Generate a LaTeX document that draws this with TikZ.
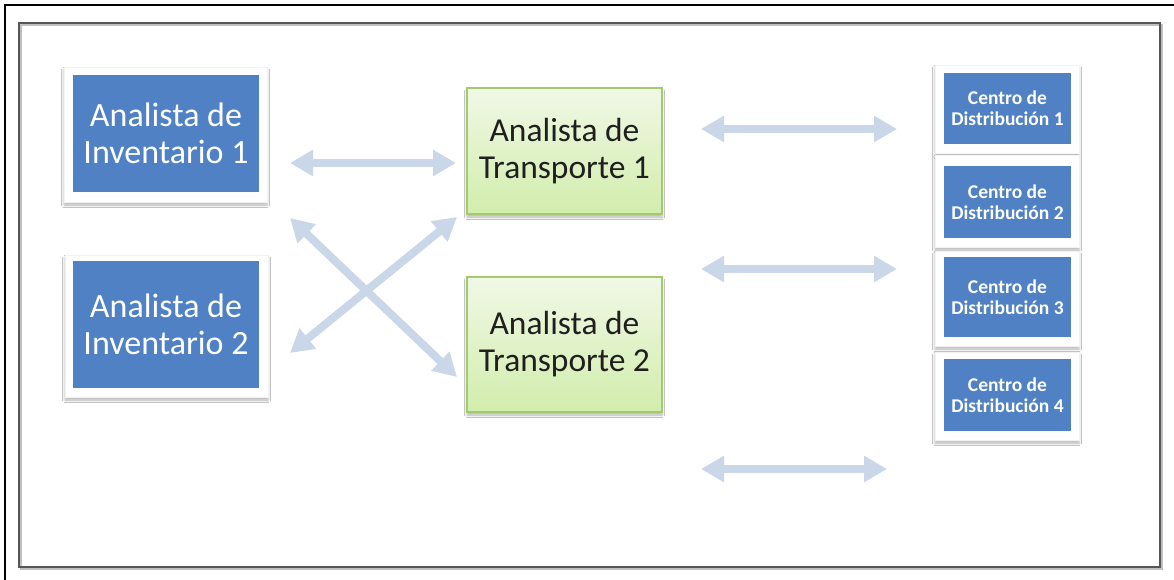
\documentclass[tikz,border=0pt]{standalone}
\usepackage{fontspec}
\setmainfont{Carlito}
\usetikzlibrary{arrows.meta,shadows.blur}
\definecolor{boxblue}{RGB}{79,129,196}
\definecolor{arrowc}{RGB}{201,215,233}
\definecolor{gtop}{RGB}{240,248,230}
\definecolor{gbot}{RGB}{210,237,172}
\definecolor{gborder}{RGB}{165,202,110}
\definecolor{framegray}{RGB}{85,85,85}
\begin{document}
\begin{tikzpicture}[x=1pt,y=-1pt,
  frame/.style={fill=white, draw=black!5, line width=0.4pt, inner sep=0pt,
    blur shadow={shadow xshift=0pt, shadow yshift=-3pt,
      shadow blur radius=2.5pt, shadow opacity=30}},
  invbox/.style={fill=boxblue, text=white, inner sep=0pt, align=center,
    font=\fontsize{34}{37}\selectfont},
  transbox/.style={top color=gtop, bottom color=gbot, draw=gborder, line width=1.2pt,
    inner sep=0pt, align=center, text=black!88,
    blur shadow={shadow xshift=0pt, shadow yshift=-3pt,
      shadow blur radius=2.5pt, shadow opacity=30},
    font=\fontsize{33.5}{37}\selectfont},
  cdbox/.style={fill=boxblue, text=white, inner sep=0pt, align=center,
    font=\bfseries\fontsize{19.5}{21}\selectfont},
  link/.style={draw=arrowc, line width=8pt,
    {Triangle[width=25pt,length=23pt]}-{Triangle[width=25pt,length=23pt]}}
]
\useasboundingbox (0,0) rectangle (1174,580);
\fill[white] (-10,-10) rectangle (1190,595);
% outer and inner frames
\draw[black, line width=1.5pt] (1180,5) -- (5,5) -- (5,590);
\draw[black!25, line width=2pt] (21,25) rectangle (1162,569);
\draw[framegray, line width=2.6pt] (19,23) rectangle (1160,567);

% Inventory analysts
\node[frame, minimum width=203pt, minimum height=135pt] (inv1f) at (165.5,134.5) {};
\node[invbox, minimum width=186pt, minimum height=117pt] (inv1) at (166,133.5) {Analista de\\Inventario 1};
\node[frame, minimum width=203pt, minimum height=142pt] (inv2f) at (166.5,326) {};
\node[invbox, minimum width=186pt, minimum height=127pt] (inv2) at (166,324.5) {Analista de\\Inventario 2};

% Transport analysts
\node[transbox, minimum width=195pt, minimum height=126pt] (tr1) at (564.5,151) {Analista de\\Transporte 1};
\node[transbox, minimum width=195pt, minimum height=135pt] (tr2) at (564.5,344.5) {Analista de\\Transporte 2};

% Distribution centres
\node[frame, minimum width=144pt, minimum height=88pt] (cd1f) at (1007,109) {};
\node[cdbox, minimum width=127pt, minimum height=71pt] (cd1) at (1007.5,108.5) {Centro de\\Distribución 1};
\node[frame, minimum width=144pt, minimum height=92pt] (cd2f) at (1007,201) {};
\node[cdbox, minimum width=127pt, minimum height=72pt] (cd2) at (1007.5,202) {Centro de\\Distribución 2};
\node[frame, minimum width=144pt, minimum height=95pt] (cd3f) at (1007,298.5) {};
\node[cdbox, minimum width=127pt, minimum height=80pt] (cd3) at (1007.5,297) {Centro de\\Distribución 3};
\node[frame, minimum width=144pt, minimum height=88pt] (cd4f) at (1007,396) {};
\node[cdbox, minimum width=127pt, minimum height=72pt] (cd4) at (1007.5,395) {Centro de\\Distribución 4};

% arrow end points
\coordinate (a1s) at (290,163);  \coordinate (a1e) at (456,163);
\coordinate (a2s) at (290,218);  \coordinate (a2e) at (457,377);
\coordinate (a3s) at (290,353);  \coordinate (a3e) at (457,217);
\coordinate (a4s) at (701,129);  \coordinate (a4e) at (897,129);
\coordinate (a5s) at (701,269);  \coordinate (a5e) at (897,269);
\coordinate (a6s) at (701,469);  \coordinate (a6e) at (887,469);

\draw[link] (a1s) -- (a1e);
\draw[link] (a2s) -- (a2e);
\draw[link] (a3s) -- (a3e);
\draw[link] (a4s) -- (a4e);
\draw[link] (a5s) -- (a5e);
\draw[link] (a6s) -- (a6e);
\end{tikzpicture}
\end{document}
